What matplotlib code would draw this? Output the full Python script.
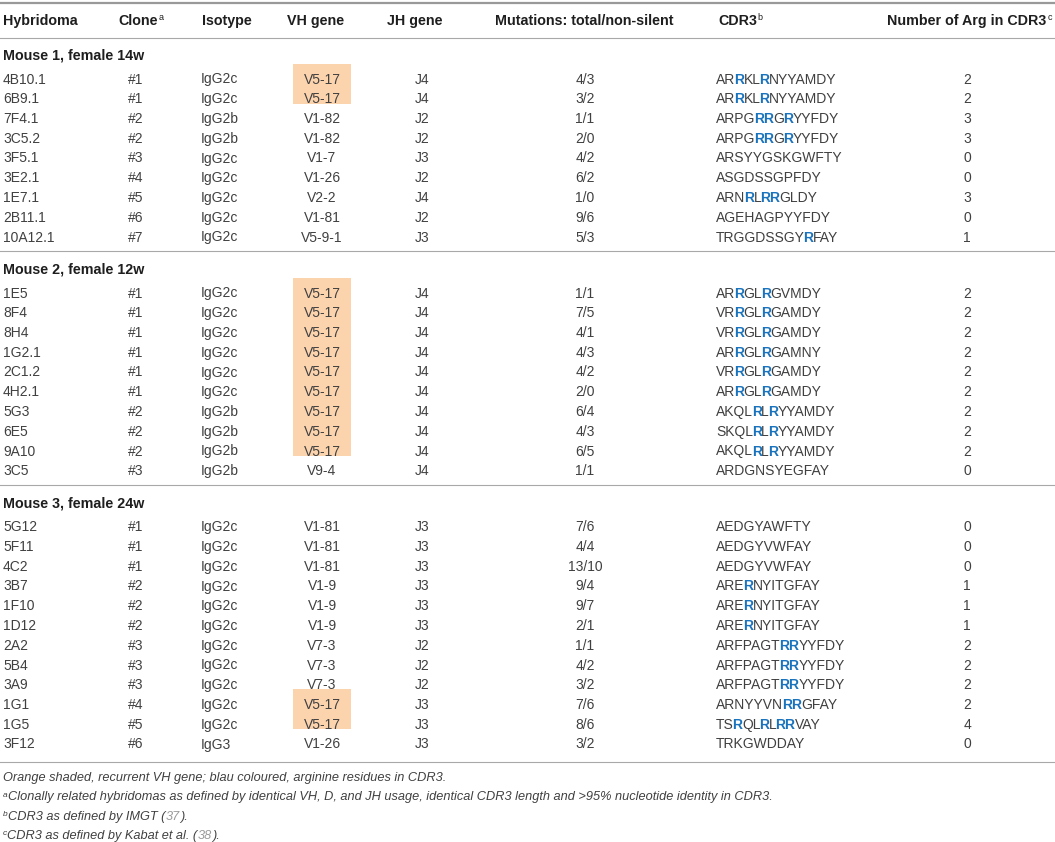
import matplotlib
matplotlib.use("Agg")
import matplotlib.pyplot as plt
from matplotlib.font_manager import FontProperties, findfont
from matplotlib.ft2font import FT2Font
import re

# ---------------- data ----------------
group_labels = ["Mouse 1, female 14w", "Mouse 2, female 12w", "Mouse 3, female 24w"]
group_sizes = [9, 10, 12]

hybridoma = ["4B10.1", "6B9.1", "7F4.1", "3C5.2", "3F5.1", "3E2.1", "1E7.1", "2B11.1", "10A12.1",
             "1E5", "8F4", "8H4", "1G2.1", "2C1.2", "4H2.1", "5G3", "6E5", "9A10", "3C5",
             "5G12", "5F11", "4C2", "3B7", "1F10", "1D12", "2A2", "5B4", "3A9", "1G1", "1G5", "3F12"]
clone = ["#1", "#1", "#2", "#2", "#3", "#4", "#5", "#6", "#7",
         "#1", "#1", "#1", "#1", "#1", "#1", "#2", "#2", "#2", "#3",
         "#1", "#1", "#1", "#2", "#2", "#2", "#3", "#3", "#3", "#4", "#5", "#6"]
isotype = ["IgG2c", "IgG2c", "IgG2b", "IgG2b", "IgG2c", "IgG2c", "IgG2c", "IgG2c", "IgG2c",
           "IgG2c", "IgG2c", "IgG2c", "IgG2c", "IgG2c", "IgG2c", "IgG2b", "IgG2b", "IgG2b", "IgG2b",
           "IgG2c", "IgG2c", "IgG2c", "IgG2c", "IgG2c", "IgG2c", "IgG2c", "IgG2c", "IgG2c", "IgG2c", "IgG2c", "IgG3"]
vh_gene = ["V5-17", "V5-17", "V1-82", "V1-82", "V1-7", "V1-26", "V2-2", "V1-81", "V5-9-1",
           "V5-17", "V5-17", "V5-17", "V5-17", "V5-17", "V5-17", "V5-17", "V5-17", "V5-17", "V9-4",
           "V1-81", "V1-81", "V1-81", "V1-9", "V1-9", "V1-9", "V7-3", "V7-3", "V7-3", "V5-17", "V5-17", "V1-26"]
jh_gene = ["J4", "J4", "J2", "J2", "J3", "J2", "J4", "J2", "J3",
           "J4", "J4", "J4", "J4", "J4", "J4", "J4", "J4", "J4", "J4",
           "J3", "J3", "J3", "J3", "J3", "J3", "J2", "J2", "J2", "J3", "J3", "J3"]
mutations = ["4/3", "3/2", "1/1", "2/0", "4/2", "6/2", "1/0", "9/6", "5/3",
             "1/1", "7/5", "4/1", "4/3", "4/2", "2/0", "6/4", "4/3", "6/5", "1/1",
             "7/6", "4/4", "13/10", "9/4", "9/7", "2/1", "1/1", "4/2", "3/2", "7/6", "8/6", "3/2"]
# residues in [] are the highlighted arginines
cdr3 = ["AR[R]KL[R]NYYAMDY", "AR[R]KL[R]NYYAMDY", "ARPG[RR]G[R]YYFDY", "ARPG[RR]G[R]YYFDY",
        "ARSYYGSKGWFTY", "ASGDSSGPFDY", "ARN[R]L[RR]GLDY", "AGEHAGPYYFDY", "TRGGDSSGY[R]FAY",
        "AR[R]GL[R]GVMDY", "VR[R]GL[R]GAMDY", "VR[R]GL[R]GAMDY", "AR[R]GL[R]GAMNY", "VR[R]GL[R]GAMDY",
        "AR[R]GL[R]GAMDY", "AKQL[R]L[R]YYAMDY", "SKQL[R]L[R]YYAMDY", "AKQL[R]L[R]YYAMDY", "ARDGNSYEGFAY",
        "AEDGYAWFTY", "AEDGYVWFAY", "AEDGYVWFAY", "ARE[R]NYITGFAY", "ARE[R]NYITGFAY", "ARE[R]NYITGFAY",
        "ARFPAGT[RR]YYFDY", "ARFPAGT[RR]YYFDY", "ARFPAGT[RR]YYFDY", "ARNYYVN[RR]GFAY",
        "TS[R]QL[R]L[RR]VAY", "TRKGWDDAY"]
n_arg = [2, 2, 3, 3, 0, 0, 3, 0, 1,
         2, 2, 2, 2, 2, 2, 2, 2, 2, 0,
         0, 0, 0, 1, 1, 1, 2, 2, 2, 2, 4, 0]
recurrent_vh = "V5-17"

footnote_sups = ["", "a", "b", "c"]
footnote_texts = [
    ["Orange shaded, recurrent VH gene; blau coloured, arginine residues in CDR3."],
    ["Clonally related hybridomas as defined by identical VH, D, and JH usage, identical CDR3 length and >95% nucleotide identity in CDR3."],
    ["CDR3 as defined by IMGT (", "37", ")."],
    ["CDR3 as defined by Kabat et al. (", "38", ")."],
]

# ---------------- style ----------------
W, H = 1055, 842
FONT = "Liberation Sans"
TXT = "#404040"
HDR = "#1e1e1e"
BLUE = "#1a73bd"
ORANGE = "#fbd4ae"
RULE = "#a8a8a8"
REFCOL = "#9a9a9a"
BODY_FS = 10.0
HDR_FS = 10.3
FOOT_FS = 9.2

fig = plt.figure(figsize=(W / 100, H / 100), dpi=100)
ax = fig.add_axes([0, 0, 1, 1])
ax.set_xlim(0, W)
ax.set_ylim(H, 0)
ax.axis("off")

# ---- pen-advance measurement straight from the font file ----
_fonts = {}


def _ft(weight, style):
    fp = FontProperties(family=FONT, weight=weight, style=style)
    path = findfont(fp)
    if path not in _fonts:
        try:
            f = FT2Font(path, hinting_factor=1)
        except TypeError:
            f = FT2Font(path)
        f.set_size(100, 72)
        _fonts[path] = f
    return _fonts[path]


def adv(s, size, weight="normal", style="normal"):
    """Pen advance (pixels at 100 dpi) of s in the given font."""
    f = _ft(weight, style)
    total = 0.0
    prev = None
    for c in s:
        gi = f.get_char_index(ord(c))
        if prev is not None:
            try:
                try:
                    from matplotlib.ft2font import Kerning
                    kern = f.get_kerning(prev, gi, Kerning.DEFAULT)
                except ImportError:
                    kern = f.get_kerning(prev, gi, 0)
                total += kern / 64.0
            except Exception:
                pass
        g = f.load_char(ord(c))
        total += g.linearHoriAdvance / 65536.0
        prev = gi
    return total * (size * 100 / 72.0) / 100.0


def put(x, y, s, **kw):
    ax.text(x, y, s, ha="left", va="baseline", family=FONT, **kw)


def txt(x, y, s, ha="left", size=BODY_FS, weight="normal", color=TXT, style="normal"):
    ax.text(x, y + 5, s, ha=ha, va="baseline", family=FONT, fontsize=size,
            fontweight=weight, color=color, fontstyle=style)


def runs(x, y_base, pieces, ha="left", tighten_bold=0.0):
    """pieces: list of (text, color, size, weight, style) drawn side by side."""
    total = sum(adv(s, sz, w, st) for s, c, sz, w, st in pieces)
    cur = x - total / 2 if ha == "center" else x
    prev_w = None
    for s, c, sz, w, st in pieces:
        if prev_w is not None and w != prev_w:
            cur -= tighten_bold if w == "bold" else tighten_bold * 0.4
        put(cur, y_base, s, color=c, fontsize=sz, fontweight=w, fontstyle=st)
        cur += adv(s, sz, w, st)
        prev_w = w


def sup_text(x, y, main, sup, ha="left", size=HDR_FS, weight="bold", color=HDR):
    w1 = adv(main, size, weight)
    w2 = adv(sup, 6.5)
    x0 = x - (w1 + w2) / 2 if ha == "center" else x
    put(x0, y + 5, main, color=color, fontsize=size, fontweight=weight)
    put(x0 + w1 + 0.8, y + 0.5, sup, color=color, fontsize=6.5)


def cdr3_text(x, y, s):
    parts = [p for p in re.split(r"(\[[A-Z]+\])", s) if p]
    pieces = []
    for p in parts:
        if p.startswith("["):
            pieces.append((p[1:-1], BLUE, BODY_FS, "bold", "normal"))
        else:
            pieces.append((p, TXT, BODY_FS, "normal", "normal"))
    runs(x, y + 5, pieces, tighten_bold=1.3)


# ---------------- rules ----------------
ax.plot([0, W], [3, 3], color="#999999", lw=1.6, solid_capstyle="butt")
ax.plot([0, W], [37.5, 37.5], color=RULE, lw=0.8)

# ---------------- header ----------------
HY = 20
X_HYB, X_CLONE, X_ISO, X_VH, X_JH, X_MUT, X_CDR, X_ARG = 3, 136, 201, 322, 422, 585, 716, 967
txt(X_HYB, HY, "Hybridoma", size=HDR_FS, weight="bold", color=HDR)
sup_text(118, HY, "Clone", "a")
txt(202, HY, "Isotype", size=HDR_FS, weight="bold", color=HDR)
txt(316, HY, "VH gene", ha="center", size=HDR_FS, weight="bold", color=HDR)
txt(415, HY, "JH gene", ha="center", size=HDR_FS, weight="bold", color=HDR)
txt(584, HY, "Mutations: total/non-silent", ha="center", size=HDR_FS, weight="bold", color=HDR)
sup_text(718, HY, "CDR3", "b")
sup_text(969, HY, "Number of Arg in CDR3", "c", ha="center")

# ---------------- body ----------------
STEP = 19.75
y_label = 55
idx = 0
for g, (lab, n) in enumerate(zip(group_labels, group_sizes)):
    txt(X_HYB, y_label, lab, size=HDR_FS, weight="bold", color=HDR)
    y0 = y_label + 23.5
    ys = [y0 + k * STEP for k in range(n)]
    # shading of recurrent VH gene (contiguous runs)
    k = 0
    while k < n:
        if vh_gene[idx + k] == recurrent_vh:
            j = k
            while j + 1 < n and vh_gene[idx + j + 1] == recurrent_vh:
                j += 1
            top = ys[k] - 15
            bot = ys[j] + 5.5
            ax.add_patch(plt.Rectangle((293, top), 58, bot - top, color=ORANGE, lw=0, zorder=0))
            k = j + 1
        else:
            k += 1
    for k in range(n):
        i = idx + k
        y = ys[k]
        txt(X_HYB, y, hybridoma[i])
        txt(X_CLONE, y, clone[i], ha="center")
        txt(X_ISO, y, isotype[i])
        txt(X_VH, y, vh_gene[i], ha="center")
        txt(X_JH, y, jh_gene[i], ha="center")
        txt(X_MUT, y, mutations[i], ha="center")
        cdr3_text(X_CDR, y, cdr3[i])
        txt(X_ARG, y, str(n_arg[i]), ha="center")
    idx += n
    last = g == len(group_sizes) - 1
    y_rule = ys[-1] + (18.5 if last else 14.5)
    ax.plot([0, W], [y_rule, y_rule], color=RULE, lw=0.8)
    y_label = y_rule + 18

# ---------------- footnotes ----------------
fy = y_rule + 15
for sup, texts in zip(footnote_sups, footnote_texts):
    cur = 3
    if sup:
        put(cur, fy + 0.5, sup, color=TXT, fontsize=6, fontstyle="italic")
        cur += adv(sup, 6, "normal", "italic") + 0.3
    pieces = [(s, REFCOL if j == 1 else TXT, FOOT_FS, "normal", "italic") for j, s in enumerate(texts)]
    runs(cur, fy + 4, pieces)
    fy += 19.3

fig.savefig("out.png", dpi=100)
